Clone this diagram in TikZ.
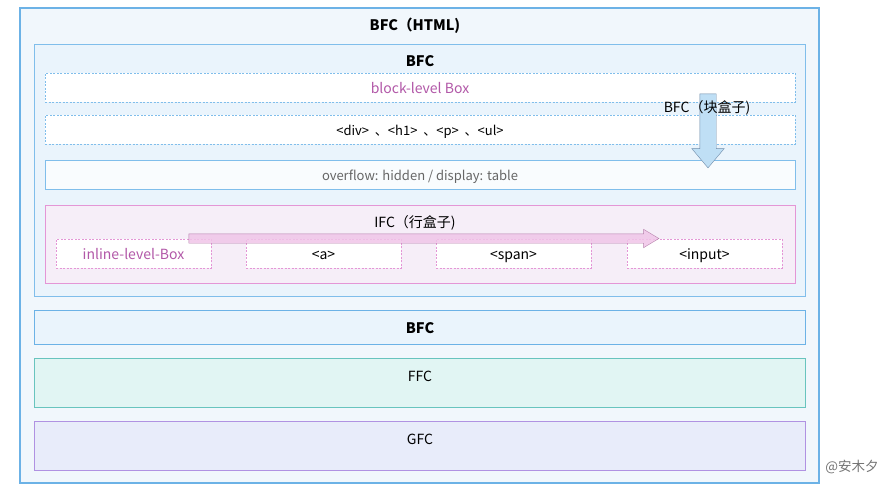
\documentclass[tikz,border=0pt]{standalone}
\usepackage{fontspec}
\setmainfont{Noto Sans CJK SC}
\usepackage{tikz}
\usetikzlibrary{shapes.arrows}
\definecolor{htmlline}{RGB}{108,178,230}
\definecolor{htmlfill}{RGB}{241,247,252}
\definecolor{bfcline}{RGB}{128,190,235}
\definecolor{bfcfill}{RGB}{234,244,252}
\definecolor{ifcline}{RGB}{228,150,214}
\definecolor{ifcfill}{RGB}{246,238,248}
\definecolor{boxtext}{RGB}{178,88,168}
\definecolor{ffcline}{RGB}{104,196,190}
\definecolor{ffcfill}{RGB}{225,245,243}
\definecolor{gfcline}{RGB}{176,146,226}
\definecolor{gfcfill}{RGB}{232,236,250}
\definecolor{arrowline}{RGB}{112,140,170}
\tikzset{
frame/.style={
  rectangle,
  line width=1pt,
  inner sep=0pt
},
dashbox/.style={
  frame,
  draw=bfcline,
  fill=white,
  dash pattern=on 2pt off 1.5pt,
  line width=0.7pt
},
inlinebox/.style={
  dashbox,
  draw=ifcline,
  minimum width=155pt,
  minimum height=29pt
},
txt/.style={font=\fontsize{14}{16}\selectfont, inner sep=0pt,
  text height=13pt, text depth=2pt},
title/.style={txt, font=\fontsize{14.5}{16}\selectfont\bfseries}
}
\begin{document}
\begin{tikzpicture}[x=1pt,y=-1pt]
\useasboundingbox (0,0) rectangle (884,493);
% the outer frame
\node[frame, draw=htmlline, line width=2pt, fill=htmlfill,
  minimum width=799pt, minimum height=475pt] (html) at (419.5,245.5) {};
\node[title] (htmltitle) at (415,25) {BFC（HTML)};
% the inner BFC
\node[frame, draw=bfcline, fill=bfcfill,
  minimum width=771pt, minimum height=252pt] (bfc) at (419.5,170) {};
\node[title] (bfctitle) at (420,61) {BFC};
\node[dashbox, minimum width=750pt, minimum height=29pt] (block) at (420,87.5) {};
\node[txt, text=boxtext] (blocktext) at (420,88) {block-level Box};
\node[dashbox, minimum width=750pt, minimum height=29pt] (tags) at (420,129.5) {};
\node[txt, font=\fontsize{13}{15}\selectfont] (tagstext) at (420,130) {<div> \ 、<h1> \ 、<p> \ 、<ul>};
\node[frame, draw=bfcline, fill=white!70!bfcfill, line width=0.8pt,
  minimum width=750pt, minimum height=29pt] (overflow) at (420,174.5) {};
\node[txt, text=black!60, font=\fontsize{13}{15}\selectfont] (overflowtext) at (420,175) {overflow: hidden / display: table};
% the IFC
\node[frame, draw=ifcline, fill=ifcfill, line width=0.8pt,
  minimum width=750pt, minimum height=78pt] (ifc) at (420,244) {};
\node[txt] (ifctitle) at (415,222) {IFC（行盒子)};
\node[inlinebox] (inl1) at (133.5,253.5) {};
\node[inlinebox] (inl2) at (323.5,253.5) {};
\node[inlinebox] (inl3) at (513.5,253.5) {};
\node[inlinebox] (inl4) at (704.5,253.5) {};
\node[txt, text=boxtext] at (inl1) {inline-level-Box};
\node[txt] at (inl2) {<a>};
\node[txt] at (inl3) {<span>};
\node[txt] at (inl4) {<input>};
% the arrows
\node[single arrow, draw=black!25!ifcline, fill=ifcline!55, opacity=0.85,
  inner sep=4.5pt, single arrow head extend=4.5pt,
  single arrow tip angle=62, minimum height=470pt] (inlarrow) at (420,238.5) {};
\node[single arrow, draw=arrowline, fill=bfcline!50, rotate=-90,
  inner sep=8pt, single arrow head extend=8pt,
  single arrow tip angle=80, minimum height=74pt] (blkarrow) at (708,126) {};
\node[txt] (blklabel) at (707,107) {BFC（块盒子)};
% the other contexts
\node[frame, draw=htmlline, fill=bfcfill,
  minimum width=771pt, minimum height=34pt] (bfc2) at (419.5,327) {};
\node[title] (bfc2text) at (420,328) {BFC};
\node[frame, draw=ffcline, fill=ffcfill,
  minimum width=771pt, minimum height=49pt] (ffc) at (419.5,382.5) {};
\node[txt] (ffctext) at (420,376) {FFC};
\node[frame, draw=gfcline, fill=gfcfill,
  minimum width=771pt, minimum height=49pt] (gfc) at (419.5,445.5) {};
\node[txt] (gfctext) at (420,439) {GFC};
\node[txt, text=black!55, font=\fontsize{13.5}{15}\selectfont] (mark) at (852,466) {@安木夕};
\end{tikzpicture}
\end{document}
